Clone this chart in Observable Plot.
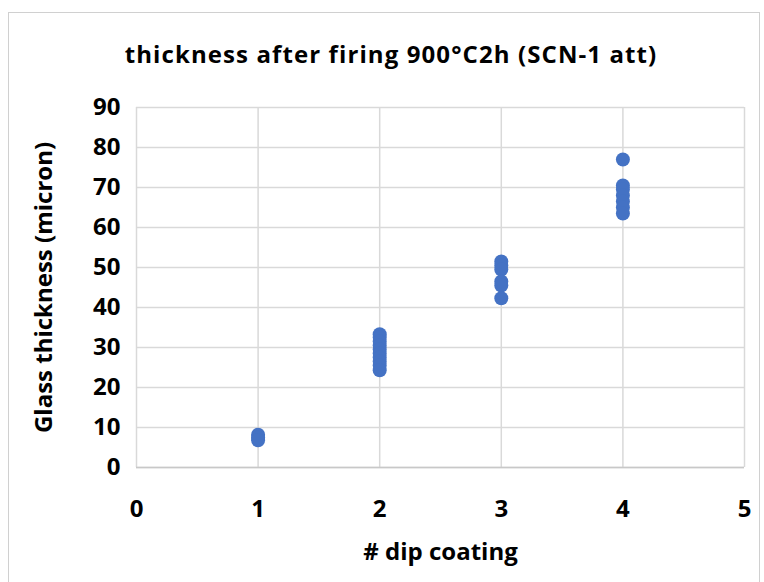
<!DOCTYPE html>
<html>
<head>
<meta charset="utf-8">
<script src="https://cdn.jsdelivr.net/npm/d3@7"></script>
<script src="https://cdn.jsdelivr.net/npm/@observablehq/plot@0.6"></script>
<style>
  html, body { margin: 0; padding: 0; background: #fff; }
  #wrap { position: relative; width: 764px; height: 582px; overflow: hidden; background: #fff; }
  #frame { position: absolute; left: 8px; top: 12px; width: 752px; height: 580px; border: 1.5px solid #d0d0d0; box-sizing: border-box; }
  #title { position: absolute; left: 0; top: 37px; width: 782px; text-align: center; font-family: "Open Sans", sans-serif; font-weight: 700; font-size: 24px; letter-spacing: 1.1px; color: #000; }
  #chart { position: absolute; left: 0; top: 90px; }
</style>
</head>
<body>
<div id="wrap">
  <div id="frame"></div>
  <div id="title">thickness after firing 900°C2h (SCN-1 att)</div>
  <div id="chart"></div>
</div>
<script>
const dip1 = [1, 1, 1];
const thick1 = [8.2, 7.5, 6.8];
const dip2 = [2, 2, 2, 2, 2, 2, 2, 2, 2, 2];
const thick2 = [33.3, 32.5, 31.5, 30.5, 29.5, 28.5, 27.5, 26.5, 25.5, 24.3];
const dip3 = [3, 3, 3, 3, 3, 3];
const thick3 = [51.5, 50.5, 49.5, 46.5, 45.5, 42.3];
const dip4 = [4, 4, 4, 4, 4, 4, 4];
const thick4 = [77, 70.5, 69.5, 68, 66.5, 65, 63.5];

const xTicks = [0, 1, 2, 3, 4, 5];
const yTicks = [0, 10, 20, 30, 40, 50, 60, 70, 80, 90];
const xLabel = "# dip coating";
const yLabel = "Glass thickness (micron)";

const data = [];
[[dip1, thick1], [dip2, thick2], [dip3, thick3], [dip4, thick4]].forEach(([xs, ys]) => {
  xs.forEach((x, i) => data.push({dip: x, thickness: ys[i]}));
});

const chart = Plot.plot({
  width: 764,
  height: 492,
  marginLeft: 136,
  marginRight: 20,
  marginTop: 17,
  marginBottom: 115,
  style: {fontFamily: "'Open Sans', sans-serif", fontSize: "24px", fontWeight: "700", color: "#000", background: "transparent"},
  x: {domain: [0, 5]},
  y: {domain: [0, 90]},
  marks: [
    Plot.gridX(xTicks, {stroke: "#d9d9d9", strokeOpacity: 1, strokeWidth: 1.5}),
    Plot.gridY(yTicks, {stroke: "#d9d9d9", strokeOpacity: 1, strokeWidth: 1.5}),
    Plot.ruleY([0], {stroke: "#c8c8c8", strokeWidth: 1.5}),
    Plot.axisX(xTicks, {tickSize: 0, tickPadding: 32, tickFormat: "d", fontSize: 24, fontWeight: 700, label: xLabel, labelAnchor: "center", labelArrow: "none", labelOffset: 92}),
    Plot.axisY(yTicks, {tickSize: 0, tickPadding: 16, tickFormat: "d", fontSize: 24, fontWeight: 700, label: yLabel, labelAnchor: "center", labelArrow: "none", labelOffset: 102}),
    Plot.dot(data, {x: "dip", y: "thickness", r: 7, fill: "#4472C4", stroke: "none"})
  ]
});
document.getElementById("chart").appendChild(chart);
</script>
</body>
</html>
